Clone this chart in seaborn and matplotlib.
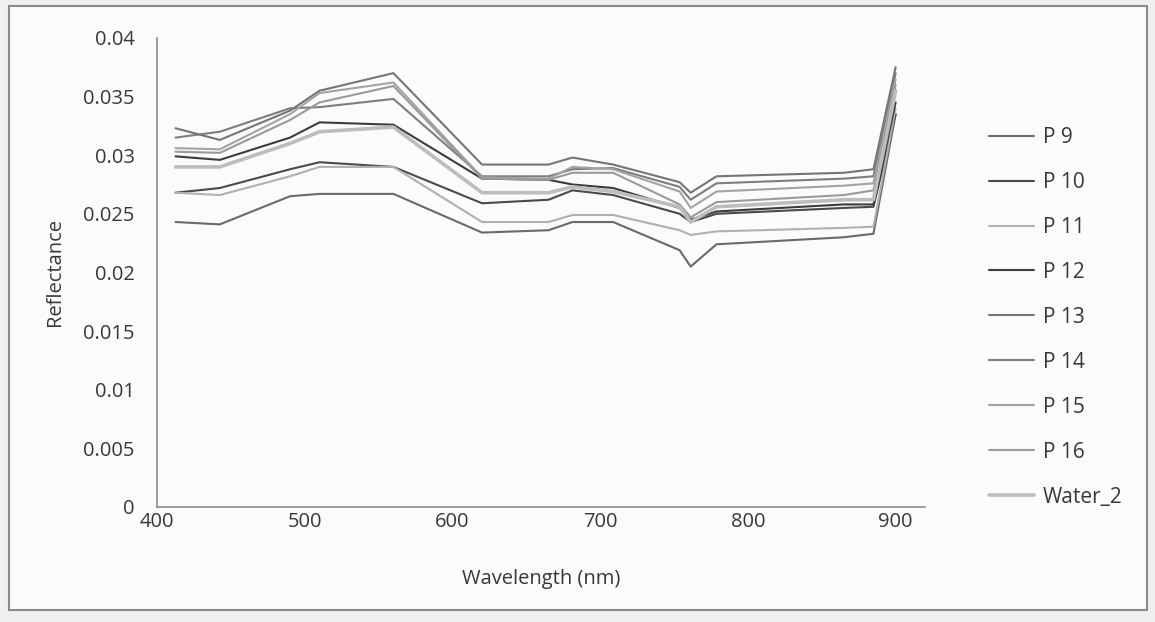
import numpy as np
import pandas as pd
import matplotlib
matplotlib.use("Agg")
import matplotlib.pyplot as plt
import seaborn as sns
from matplotlib.patches import Rectangle

# ---- data ----
wavelengths = [412.5, 442.5, 490, 510, 560, 620, 665, 681.25, 708.75,
               753.75, 761.25, 778.75, 865, 885, 900]

p9 = [0.0243, 0.0241, 0.0265, 0.0267, 0.0267, 0.0234, 0.0236, 0.0243, 0.0243,
      0.0219, 0.0205, 0.0224, 0.0230, 0.0233, 0.0335]
p10 = [0.0268, 0.0272, 0.0288, 0.0294, 0.0290, 0.0259, 0.0262, 0.0270, 0.0266,
       0.0250, 0.0243, 0.0250, 0.0255, 0.0256, 0.0335]
p11 = [0.0268, 0.0266, 0.0282, 0.0290, 0.0290, 0.0243, 0.0243, 0.0249, 0.0249,
       0.0236, 0.0232, 0.0235, 0.0238, 0.0239, 0.0340]
p12 = [0.0299, 0.0296, 0.0315, 0.0328, 0.0326, 0.0280, 0.0279, 0.0275, 0.0272,
       0.0255, 0.0245, 0.0252, 0.0258, 0.0258, 0.0345]
p13 = [0.0323, 0.0313, 0.0338, 0.0355, 0.0370, 0.0292, 0.0292, 0.0298, 0.0292,
       0.0277, 0.0268, 0.0282, 0.0285, 0.0288, 0.0375]
p14 = [0.0315, 0.0320, 0.0340, 0.0341, 0.0348, 0.0282, 0.0282, 0.0288, 0.0289,
       0.0273, 0.0262, 0.0276, 0.0280, 0.0282, 0.0370]
p15 = [0.0306, 0.0305, 0.0335, 0.0353, 0.0362, 0.0281, 0.0280, 0.0290, 0.0288,
       0.0269, 0.0255, 0.0269, 0.0274, 0.0276, 0.0365]
p16 = [0.0303, 0.0302, 0.0330, 0.0345, 0.0359, 0.0280, 0.0279, 0.0285, 0.0285,
       0.0258, 0.0247, 0.0260, 0.0266, 0.0270, 0.0360]
water_2 = [0.0290, 0.0290, 0.0310, 0.0320, 0.0324, 0.0268, 0.0268, 0.0273, 0.0269,
           0.0256, 0.0243, 0.0256, 0.0262, 0.0262, 0.0355]

series_names = ["P 9", "P 10", "P 11", "P 12", "P 13", "P 14", "P 15", "P 16", "Water_2"]
series_values = [p9, p10, p11, p12, p13, p14, p15, p16, water_2]
x_ticks = [400, 500, 600, 700, 800, 900]
y_tick_labels = ["0", "0.005", "0.01", "0.015", "0.02", "0.025", "0.03", "0.035", "0.04"]

colors = {"P 9": "#6a6a6a", "P 10": "#4a4a4a", "P 11": "#b0b0b0", "P 12": "#3c3c3c",
          "P 13": "#757575", "P 14": "#7d7d7d", "P 15": "#a3a3a3", "P 16": "#9a9a9a",
          "Water_2": "#bdbdbd"}
widths = {n: 1.5 for n in series_names}
widths["Water_2"] = 2.6

df = pd.concat([pd.DataFrame({"Wavelength": wavelengths, "Reflectance": v, "Series": n})
                for n, v in zip(series_names, series_values)], ignore_index=True)

# ---- plot ----
sns.set_style("white")
plt.rcParams["font.family"] = ["Open Sans", "DejaVu Sans"]
txt = "#383838"

fig = plt.figure(figsize=(11.55, 6.22), dpi=100, facecolor="#f0f0f0")
fig.patches.append(Rectangle((0.008, 0.02), 0.985, 0.97, transform=fig.transFigure,
                             fill=True, facecolor="#fbfbfb", edgecolor="#8a8a8a",
                             linewidth=1.5, zorder=-10))
ax = fig.add_axes([0.136, 0.185, 0.665, 0.754])
ax.set_zorder(5)
ax.set_facecolor("none")

for n in series_names:
    sub = df[df["Series"] == n]
    sns.lineplot(data=sub, x="Wavelength", y="Reflectance", ax=ax, color=colors[n],
                 linewidth=widths[n], label=n, estimator=None, sort=False)

ax.set_xlim(400, 920)
ax.set_ylim(0, 0.04)
ax.set_xticks(x_ticks)
ax.set_yticks(np.linspace(0, 0.04, len(y_tick_labels)))
ax.set_yticklabels(y_tick_labels)
ax.tick_params(axis="both", length=0, labelsize=14.5, labelcolor=txt)
ax.tick_params(axis="y", pad=16)
ax.tick_params(axis="x", pad=4)
for s in ["top", "right"]:
    ax.spines[s].set_visible(False)
for s in ["left", "bottom"]:
    ax.spines[s].set_color("#8c8c8c")
    ax.spines[s].set_linewidth(1.2)

ax.set_xlabel("Wavelength (nm)", fontsize=14.5, color=txt, labelpad=26)
ax.set_ylabel("Reflectance", fontsize=14.5, color=txt, labelpad=13)

leg = ax.legend(loc="center left", bbox_to_anchor=(0.840, 0.49),
                bbox_transform=fig.transFigure, frameon=False, fontsize=15,
                labelspacing=1.15, handlelength=2.15, handletextpad=0.45)
for t in leg.get_texts():
    t.set_color(txt)

fig.savefig("out.png", dpi=100, facecolor=fig.get_facecolor())
